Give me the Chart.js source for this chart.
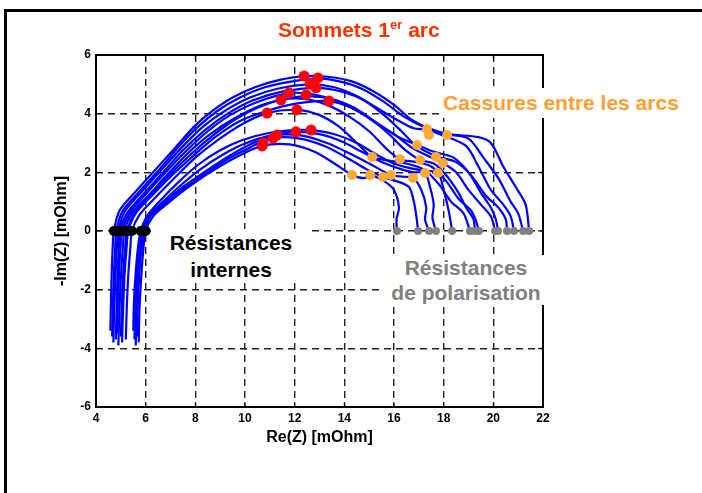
<!DOCTYPE html>
<html>
<head>
<meta charset="utf-8">
<script src="https://cdn.jsdelivr.net/npm/chart.js@4.4.0/dist/chart.umd.min.js"></script>
<style>
body { margin: 0; background: #fff; }
#wrap { position: relative; width: 702px; height: 493px; overflow: hidden; font-family: "Liberation Sans", Arial, sans-serif; font-weight: bold; }
#frame { position: absolute; left: 4px; top: 9px; width: 800px; height: 600px; border-top: 3px solid #000; border-left: 3px solid #000; }
canvas { position: absolute; left: 0; top: 0; }
.note { position: absolute; background: #fff; white-space: nowrap; }
</style>
</head>
<body>
<div id="wrap">
  <div id="frame"></div>
  <canvas id="nyquist" width="702" height="493"></canvas>
  <div class="note" style="left:278px;top:17px;font-size:21px;color:#ff3300;background:transparent;">Sommets 1<sup style="font-size:13px;">er</sup> arc</div>
  <div class="note" style="left:440px;top:88px;padding:0 3px;font-size:21px;line-height:30px;color:#ffa033;">Cassures entre les arcs</div>
  <div class="note" style="left:153px;top:229px;width:156px;text-align:center;font-size:21px;line-height:27px;color:#000;">Résistances<br>internes</div>
  <div class="note" style="left:381px;top:255px;width:170px;text-align:center;font-size:21px;line-height:25px;color:#808080;">Résistances<br>de polarisation</div>
</div>
<script>
// axes
const xTicks = [4, 6, 8, 10, 12, 14, 16, 18, 20, 22];
const yTicks = [-6, -4, -2, 0, 2, 4, 6];

// impedance spectra, [Re, -Im] in mOhm
const curve1 = [[4.58,-3.4],[4.6,-2.5],[4.63,-1.5],[4.67,-0.6],[4.72,0],[4.95,0.7],[5.6,1.35],[6.35,2.05],[7.2,2.85],[8.0,3.6],[8.7,4.1],[9.5,4.55],[10.4,4.9],[11.4,5.15],[12.4,5.28],[13.4,5.25],[14.3,5.1],[15.2,4.75],[16.0,4.3],[16.7,3.8],[17.4,3.5],[18.2,3.3],[19.4,3.2],[19.9,3.0],[20.4,2.2],[20.9,1.5],[21.3,0.9],[21.44,0]];
const curve2 = [[4.65,-3.6],[4.68,-2.6],[4.72,-1.5],[4.77,-0.6],[4.82,0],[5.05,0.65],[5.7,1.3],[6.45,2.0],[7.3,2.85],[8.1,3.55],[8.9,4.1],[9.8,4.55],[10.8,4.9],[11.9,5.1],[12.9,5.2],[13.8,5.1],[14.7,4.85],[15.6,4.4],[16.4,3.9],[17.2,3.55],[18.1,3.3],[19.0,3.15],[19.6,2.5],[20.2,1.8],[20.7,1.0],[21.0,0.6],[21.2,0]];
const curve3 = [[4.7,-3.8],[4.73,-2.7],[4.78,-1.6],[4.84,-0.6],[4.9,0],[5.15,0.65],[5.8,1.3],[6.55,2.0],[7.4,2.8],[8.3,3.55],[9.2,4.1],[10.2,4.55],[11.3,4.85],[12.6,5.0],[13.6,4.9],[14.5,4.6],[15.3,4.2],[16.1,3.8],[16.8,3.5],[17.3,3.45],[18.0,3.25],[18.9,2.9],[19.4,2.2],[19.9,1.4],[20.4,0.9],[20.7,0.5],[20.83,0]];
const curve4 = [[4.8,-3.7],[4.83,-2.6],[4.87,-1.5],[4.92,-0.6],[4.97,0],[5.25,0.6],[5.9,1.25],[6.65,1.95],[7.5,2.75],[8.4,3.45],[9.3,4.0],[10.3,4.45],[11.5,4.75],[12.9,4.88],[13.9,4.75],[14.8,4.45],[15.6,3.95],[16.3,3.4],[16.9,2.9],[17.7,2.55],[18.5,2.35],[19.1,1.9],[19.7,1.2],[20.2,0.8],[20.5,0.4],[20.55,0]];
const curve5 = [[4.85,-3.5],[4.88,-2.5],[4.93,-1.4],[4.99,-0.5],[5.05,0],[5.35,0.6],[6.0,1.25],[6.75,1.95],[7.6,2.7],[8.5,3.4],[9.4,3.95],[10.5,4.4],[11.8,4.7],[12.8,4.65],[13.8,4.4],[14.7,4.0],[15.5,3.55],[16.3,3.15],[16.95,2.93],[17.6,2.7],[18.4,2.5],[19.0,2.0],[19.5,1.3],[19.9,0.8],[20.1,0.4],[20.19,0]];
const curve6 = [[4.9,-3.9],[4.94,-2.8],[5.0,-1.6],[5.08,-0.6],[5.15,0],[5.45,0.6],[6.1,1.2],[6.85,1.9],[7.7,2.65],[8.6,3.3],[9.6,3.85],[10.7,4.3],[11.6,4.5],[12.5,4.6],[13.5,4.5],[14.4,4.2],[15.2,3.75],[16.0,3.3],[16.8,2.8],[17.4,2.55],[17.97,2.32],[18.5,2.0],[19.0,1.4],[19.5,0.9],[19.9,0.5],[20.07,0]];
const curve7 = [[5.0,-3.6],[5.04,-2.5],[5.1,-1.4],[5.18,-0.5],[5.25,0],[5.55,0.6],[6.2,1.2],[6.95,1.9],[7.8,2.6],[8.7,3.25],[9.6,3.8],[10.5,4.2],[11.45,4.47],[12.4,4.5],[13.3,4.3],[14.2,3.9],[15.0,3.4],[15.7,2.8],[16.24,2.45],[16.9,2.35],[17.5,2.2],[18.1,1.7],[18.6,1.1],[19.1,0.7],[19.3,0.35],[19.42,0]];
const curve8 = [[5.05,-3.8],[5.09,-2.7],[5.15,-1.5],[5.23,-0.6],[5.3,0],[5.6,0.6],[6.25,1.2],[7.0,1.85],[7.9,2.55],[8.8,3.2],[9.8,3.75],[10.9,4.1],[12.1,4.35],[13.38,4.43],[14.3,4.2],[15.1,3.8],[15.8,3.3],[16.4,2.8],[17.05,2.42],[17.6,2.3],[18.1,1.9],[18.6,1.3],[18.9,0.8],[19.2,0.4],[19.26,0]];
const curve9 = [[5.2,-3.7],[5.24,-2.6],[5.3,-1.5],[5.38,-0.6],[5.45,0],[5.75,0.55],[6.4,1.15],[7.15,1.8],[8.0,2.5],[8.9,3.1],[9.9,3.65],[10.89,4.02],[12.09,4.13],[13.0,3.95],[13.8,3.55],[14.5,3.0],[15.12,2.52],[15.8,2.4],[16.5,2.3],[17.2,2.1],[17.8,1.6],[18.3,1.0],[18.8,0.6],[19.06,0]];
const curve10 = [[5.5,-3.4],[5.53,-2.4],[5.6,-1.4],[5.7,-0.5],[5.8,0],[6.05,0.5],[6.6,1.05],[7.3,1.65],[8.1,2.25],[9.0,2.75],[9.9,3.1],[11.0,3.35],[12.0,3.44],[12.66,3.44],[13.6,3.3],[14.5,3.0],[15.3,2.6],[16.0,2.3],[16.6,2.15],[17.25,2.05],[17.77,1.98],[18.0,1.4],[18.2,0.7],[18.34,0]];
const curve11 = [[5.55,-3.7],[5.58,-2.6],[5.64,-1.5],[5.74,-0.6],[5.85,0],[6.1,0.5],[6.7,1.0],[7.4,1.55],[8.2,2.1],[9.1,2.6],[10.0,2.98],[11.0,3.25],[12.05,3.38],[13.0,3.3],[13.9,3.05],[14.7,2.7],[15.5,2.35],[16.3,2.1],[16.8,2.0],[17.25,1.98],[17.45,1.5],[17.6,0.9],[17.55,0.45],[17.69,0]];
const curve12 = [[5.6,-3.9],[5.63,-2.8],[5.69,-1.6],[5.79,-0.6],[5.9,0],[6.15,0.5],[6.75,0.98],[7.5,1.5],[8.35,2.0],[9.25,2.5],[10.2,2.95],[11.29,3.27],[12.3,3.25],[13.3,3.0],[14.2,2.65],[15.0,2.3],[15.88,1.91],[16.4,1.85],[16.77,1.81],[17.1,1.4],[17.3,0.8],[17.25,0.4],[17.41,0]];
const curve13 = [[5.65,-3.6],[5.68,-2.5],[5.75,-1.4],[5.85,-0.5],[5.95,0],[6.2,0.5],[6.8,0.95],[7.55,1.45],[8.4,1.95],[9.3,2.45],[10.2,2.85],[11.13,3.17],[12.2,3.15],[13.2,2.9],[14.1,2.5],[14.9,2.1],[15.56,1.84],[16.1,1.7],[16.6,1.5],[16.8,1.0],[16.9,0.5],[16.97,0]];
const curve14 = [[5.72,-3.8],[5.75,-2.7],[5.82,-1.6],[5.91,-0.6],[6.0,0],[6.3,0.5],[6.9,0.95],[7.65,1.45],[8.5,1.95],[9.6,2.5],[10.69,2.9],[11.8,2.95],[12.8,2.7],[13.6,2.3],[14.31,1.91],[14.8,1.8],[15.04,1.91],[15.6,1.7],[16.0,1.4],[16.2,0.8],[16.1,0.4],[16.12,0]];

// summits of the first arc (red)
const peakX = [12.38, 12.94, 12.62, 12.86, 11.77, 12.46, 11.45, 13.38, 10.89, 12.09, 12.05, 12.66, 11.29, 11.13, 10.69, 10.73];
const peakY = [5.28, 5.22, 5.01, 4.88, 4.71, 4.64, 4.47, 4.43, 4.02, 4.13, 3.38, 3.44, 3.27, 3.17, 2.9, 3.0];
// breaks between the arcs (orange)
const breakX = [17.33, 17.41, 18.14, 16.93, 15.12, 16.24, 17.05, 17.69, 17.97, 14.31, 15.04, 15.56, 15.88, 16.77, 17.25, 17.77];
const breakY = [3.48, 3.27, 3.27, 2.93, 2.52, 2.45, 2.42, 2.52, 2.32, 1.91, 1.91, 1.84, 1.91, 1.81, 1.98, 1.98];
// internal resistances (black) and polarisation resistances (grey), on -Im = 0
const rintX = [4.72, 4.82, 4.9, 4.97, 5.05, 5.15, 5.25, 5.3, 5.45, 5.8, 5.85, 5.9, 5.95, 6.0];
const rpolX = [16.12, 16.97, 17.41, 17.69, 18.34, 19.06, 19.26, 19.42, 20.07, 20.19, 20.55, 20.83, 21.2, 21.44];

const curves = [curve1, curve2, curve3, curve4, curve5, curve6, curve7, curve8, curve9, curve10, curve11, curve12, curve13, curve14];

const toPoints = (xs, ys) => xs.map((x, i) => ({ x: x, y: ys[i] }));
const onAxis = xs => xs.map(x => ({ x: x, y: 0 }));

const dotSet = (pts, color, r) => ({
    data: pts,
    backgroundColor: color,
    borderColor: color,
    borderWidth: 0,
    pointRadius: r,
    pointHoverRadius: r,
    showLine: false,
    order: 0
});

const datasets = [
    dotSet(toPoints(peakX, peakY), '#ff0000', 5.5),
    dotSet(toPoints(breakX, breakY), '#ffaa33', 5),
    dotSet(onAxis(rintX), '#000000', 5),
    dotSet(onAxis(rpolX), '#808080', 4)
];
curves.forEach(c => {
    datasets.push({
        data: c.map(p => ({ x: p[0], y: p[1] })),
        showLine: true,
        borderColor: '#0000ff',
        borderWidth: 2.2,
        pointRadius: 0,
        tension: 0.3,
        fill: false,
        order: 1
    });
});

// black box round the plot with inward tick marks
const boxPlugin = {
    id: 'box',
    afterDraw(chart) {
        const { ctx, chartArea: a, scales } = chart;
        ctx.save();
        ctx.strokeStyle = '#000';
        ctx.lineWidth = 1;
        ctx.setLineDash([]);
        ctx.beginPath();
        xTicks.forEach(v => {
            const px = scales.x.getPixelForValue(v);
            ctx.moveTo(px, a.top); ctx.lineTo(px, a.top + 5);
            ctx.moveTo(px, a.bottom); ctx.lineTo(px, a.bottom - 5);
        });
        yTicks.forEach(v => {
            const py = scales.y.getPixelForValue(v);
            ctx.moveTo(a.left, py); ctx.lineTo(a.left + 5, py);
            ctx.moveTo(a.right, py); ctx.lineTo(a.right - 5, py);
        });
        ctx.stroke();
        ctx.lineWidth = 2;
        ctx.strokeRect(a.left, a.top, a.right - a.left, a.bottom - a.top);
        ctx.restore();
    }
};

const tickFont = { family: '"Liberation Sans", Arial, sans-serif', size: 12, weight: 'bold' };
const titleFont = { family: '"Liberation Sans", Arial, sans-serif', size: 16, weight: 'bold' };

new Chart(document.getElementById('nyquist'), {
    type: 'scatter',
    data: { datasets: datasets },
    plugins: [boxPlugin],
    options: {
        responsive: false,
        animation: false,
        layout: { padding: { left: 40, top: 55, right: 159, bottom: 40 } },
        plugins: { legend: { display: false }, tooltip: { enabled: false } },
        scales: {
            x: {
                type: 'linear',
                min: 4,
                max: 22,
                afterBuildTicks: s => { s.ticks = xTicks.map(v => ({ value: v })); },
                afterFit: s => { s.height = 46; },
                ticks: { color: '#000', font: tickFont, padding: 4 },
                grid: { color: '#222', lineWidth: 1.4, drawTicks: false },
                border: { display: false, dash: [7, 5] },
                title: { display: true, text: 'Re(Z) [mOhm]', color: '#000', font: titleFont, padding: { top: 0, bottom: 6 } }
            },
            y: {
                type: 'linear',
                min: -6,
                max: 6,
                afterBuildTicks: s => { s.ticks = yTicks.map(v => ({ value: v })); },
                afterFit: s => { s.width = 56; },
                ticks: { color: '#000', font: tickFont, padding: 5 },
                grid: { color: '#222', lineWidth: 1.4, drawTicks: false },
                border: { display: false, dash: [7, 5] },
                title: { display: true, text: '-Im(Z) [mOhm]', color: '#000', font: titleFont, padding: { top: 12, bottom: 0 } }
            }
        }
    }
});
</script>
</body>
</html>
